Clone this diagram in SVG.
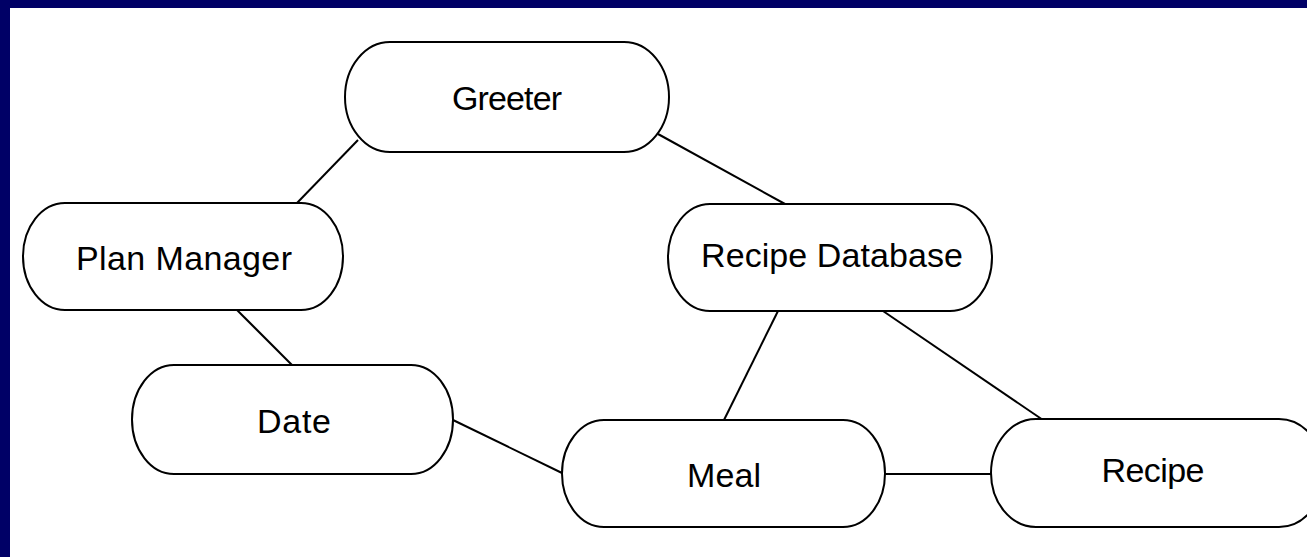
<svg xmlns="http://www.w3.org/2000/svg" width="1307" height="557" viewBox="0 0 1307 557">
  <style>
    .node rect { fill: #ffffff; stroke: #000000; stroke-width: 2; }
    .node text { font-family: "Liberation Sans", Arial, sans-serif; font-size: 34px; fill: #000000; text-anchor: middle; }
    .edges line { stroke: #000000; stroke-width: 2; }
  </style>
  <rect x="0" y="0" width="1307" height="557" fill="#ffffff"/>
  <rect x="0" y="0" width="1307" height="8" fill="#000066"/>
  <rect x="0" y="0" width="10" height="557" fill="#000066"/>
  <g id="connectors" class="edges">
    <line x1="358" y1="140" x2="297" y2="203"/>
    <line x1="658" y1="134" x2="785" y2="204"/>
    <line x1="237" y1="310" x2="292" y2="365"/>
    <line x1="453" y1="420" x2="562" y2="473"/>
    <line x1="778" y1="311" x2="724" y2="420"/>
    <line x1="883" y1="311" x2="1043" y2="420"/>
    <line x1="885" y1="474" x2="991" y2="474"/>
  </g>
  <g id="greeter" class="node">
    <rect x="345" y="42" width="324" height="110" rx="45" ry="55"/>
    <text x="507" y="110" textLength="110">Greeter</text>
  </g>
  <g id="plan-manager" class="node">
    <rect x="23" y="203" width="320" height="107" rx="42" ry="53.5"/>
    <text x="184" y="270" textLength="216">Plan Manager</text>
  </g>
  <g id="date" class="node">
    <rect x="132" y="365" width="321" height="109" rx="42" ry="54.5"/>
    <text x="294" y="433" textLength="74">Date</text>
  </g>
  <g id="recipe-database" class="node">
    <rect x="668" y="204" width="324" height="107" rx="42" ry="53.5"/>
    <text x="832" y="267" textLength="262">Recipe Database</text>
  </g>
  <g id="meal" class="node">
    <rect x="562" y="420" width="323" height="107" rx="42" ry="53.5"/>
    <text x="724" y="487" textLength="74">Meal</text>
  </g>
  <g id="recipe" class="node">
    <rect x="991" y="419" width="333" height="108" rx="45" ry="54"/>
    <text x="1153" y="482" textLength="103">Recipe</text>
  </g>
</svg>
